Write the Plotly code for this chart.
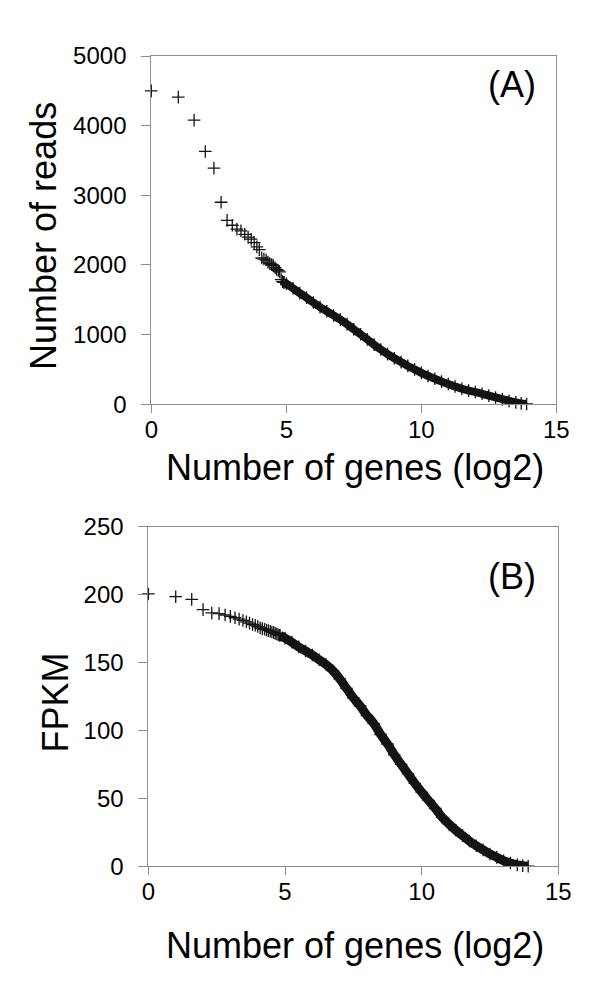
import plotly.graph_objects as go

# ---------------- Panel A: Number of reads ----------------
a_sparse_x = [0, 1, 1.585, 2, 2.32, 2.585, 2.807, 3, 3.17, 3.32, 3.46, 3.585, 3.70,
              3.81, 3.91, 4.0, 4.09, 4.17, 4.25, 4.32, 4.39, 4.46, 4.52, 4.585, 4.64,
              4.70, 4.75, 4.81, 4.86, 4.91]
a_sparse_y = [4500, 4410, 4080, 3630, 3390, 2900, 2640, 2570, 2515, 2490, 2440, 2400, 2370,
              2320, 2260, 2220, 2100, 2085, 2070, 2040, 2020, 2005, 1990, 1960, 1935,
              1920, 1900, 1790, 1760, 1750]
a_dense_x = [4.91, 5.0, 5.25, 5.5, 5.75, 6.0, 6.25, 6.5, 6.75, 7.0, 7.25, 7.5, 7.75, 8.0,
             8.25, 8.5, 8.75, 9.0, 9.25, 9.5, 9.75, 10.0, 10.25, 10.5, 10.75, 11.0,
             11.25, 11.5, 11.75, 12.0, 12.25, 12.5, 12.75, 13.0, 13.25, 13.5, 13.7, 13.9]
a_dense_y = [1750, 1730, 1665, 1595, 1530, 1460, 1395, 1335, 1275, 1215, 1150, 1075, 1005, 930,
             855, 785, 720, 660, 605, 550, 500, 450, 405, 365, 325, 290,
             255, 222, 195, 175, 150, 123, 97, 72, 48, 27, 12, 4]

# ---------------- Panel B: FPKM ----------------
b_sparse_x = [0, 1, 1.585, 2, 2.32, 2.585, 2.807, 3, 3.17, 3.32, 3.46, 3.585, 3.70,
              3.81, 3.91, 4.0, 4.09, 4.17, 4.25, 4.32, 4.39, 4.46, 4.52, 4.585, 4.64,
              4.70, 4.75, 4.81]
b_sparse_y = [200.5, 198.5, 196.5, 189, 186.5, 186, 185, 184, 183, 182, 181, 180, 179,
              178, 177.5, 176.5, 175.5, 175, 174.5, 174, 173.5, 173, 172.5, 172, 171.5,
              171, 170.5, 170]
b_dense_x = [4.81, 5.0, 5.25, 5.5, 5.75, 6.0, 6.25, 6.5, 6.75, 7.0, 7.25, 7.5, 7.75, 8.0,
             8.25, 8.5, 8.75, 9.0, 9.25, 9.5, 9.75, 10.0, 10.25, 10.5, 10.75, 11.0,
             11.25, 11.5, 11.75, 12.0, 12.25, 12.5, 12.75, 13.0, 13.25, 13.5, 13.7, 13.9]
b_dense_y = [170, 168, 165, 161.5, 158.5, 155.5, 152, 148.5, 144, 138, 131, 124, 118, 111,
             105, 97, 90, 82, 75, 68, 61, 54.5, 48.5, 42.5, 36, 31,
             26.5, 22.5, 18.5, 15, 12, 9, 6.5, 4, 2.3, 1, 0.4, 0]

x_ticks = [0, 5, 10, 15]
a_y_ticks = [0, 1000, 2000, 3000, 4000, 5000]
b_y_ticks = [0, 50, 100, 150, 200, 250]

W, H = 600, 984
FONT = "Arial, Liberation Sans, Helvetica, sans-serif"
INK = "#141414"
AXC = "#8c8c8c"


def px(x):
    return x / W


def py(y):
    return 1 - y / H


marker = dict(symbol="cross-thin", size=9, color=INK, line=dict(width=1.3, color=INK))

fig = go.Figure()
fig.add_trace(go.Scatter(x=a_dense_x, y=a_dense_y, mode="lines+markers", xaxis="x", yaxis="y",
                         line=dict(color=INK, width=8, shape="spline"), marker=marker,
                         cliponaxis=False, showlegend=False))
fig.add_trace(go.Scatter(x=a_sparse_x, y=a_sparse_y, mode="markers", xaxis="x", yaxis="y",
                         marker=marker, cliponaxis=False, showlegend=False))
fig.add_trace(go.Scatter(x=b_dense_x, y=b_dense_y, mode="lines+markers", xaxis="x2", yaxis="y2",
                         line=dict(color=INK, width=9, shape="spline"), marker=marker,
                         cliponaxis=False, showlegend=False))
fig.add_trace(go.Scatter(x=b_sparse_x, y=b_sparse_y, mode="markers", xaxis="x2", yaxis="y2",
                         marker=marker, cliponaxis=False, showlegend=False))

tickfont = dict(family=FONT, size=24, color="#000")
common_x = dict(range=[0, 15], tickvals=x_ticks, ticks="outside", ticklen=8, tickcolor=AXC,
                tickwidth=1, showline=True, linecolor=AXC, linewidth=1, mirror=True,
                showgrid=False, zeroline=False, tickfont=tickfont, ticklabelstandoff=-4)
common_y = dict(ticks="outside", ticklen=9, tickcolor=AXC, tickwidth=1, showline=True,
                linecolor=AXC, linewidth=1, mirror=True, showgrid=False, zeroline=False,
                tickfont=tickfont, ticklabelstandoff=10)

fig.update_layout(
    width=W, height=H,
    margin=dict(l=0, r=0, t=0, b=0),
    paper_bgcolor="white", plot_bgcolor="white",
    font=dict(family=FONT, color="#000"),
    xaxis=dict(domain=[px(141), px(560)], anchor="y", **common_x),
    yaxis=dict(domain=[py(393), py(35)], anchor="x", range=[0, 5000], tickvals=a_y_ticks, **common_y),
    xaxis2=dict(domain=[px(138), px(562)], anchor="y2", **common_x),
    yaxis2=dict(domain=[py(868), py(519)], anchor="x2", range=[0, 250], tickvals=b_y_ticks, **common_y),
)

title_font = dict(family=FONT, size=36, color="#000")
ann = [
    dict(text="Number of reads", x=px(30), y=py(220), textangle=-90),
    dict(text="Number of genes (log2)", x=px(352), y=py(458)),
    dict(text="FPKM", x=px(42), y=py(700), textangle=-90),
    dict(text="Number of genes (log2)", x=px(352), y=py(950)),
]
for a in ann:
    fig.add_annotation(xref="paper", yref="paper", xanchor="center", yanchor="middle",
                       showarrow=False, font=title_font, **a)

fig.add_annotation(text="(A)", xref="paper", yref="paper", x=px(514), y=py(64),
                   xanchor="center", yanchor="middle", showarrow=False,
                   font=dict(family=FONT, size=36, color="#000"))
fig.add_annotation(text="(B)", xref="paper", yref="paper", x=px(514), y=py(570),
                   xanchor="center", yanchor="middle", showarrow=False,
                   font=dict(family=FONT, size=36, color="#000"))

fig.write_html("out.html")
